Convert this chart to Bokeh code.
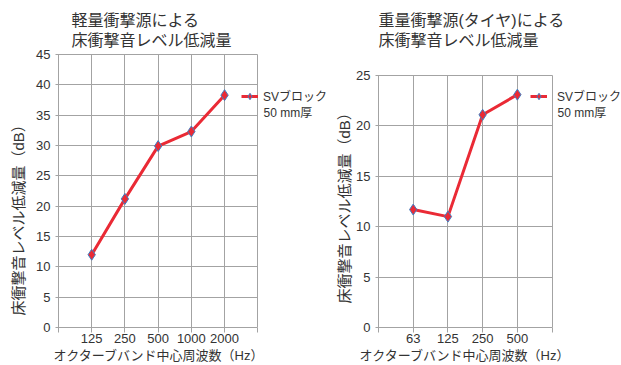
from bokeh.plotting import figure
from bokeh.layouts import row
from bokeh.models import Range1d, FixedTicker, Legend, LegendItem, Label, Title
from bokeh.embed import file_html
from bokeh.resources import INLINE

# ---- data ----
light_bands = ["125", "250", "500", "1000", "2000"]
light_values = [12.0, 21.2, 29.9, 32.3, 38.3]
heavy_bands = ["63", "125", "250", "500"]
heavy_values = [11.7, 11.0, 21.1, 23.1]
light_yticks = [0, 5, 10, 15, 20, 25, 30, 35, 40, 45]
heavy_yticks = [0, 5, 10, 15, 20, 25]
light_title = ["軽量衝撃源による", "床衝撃音レベル低減量"]
heavy_title = ["重量衝撃源(タイヤ)による", "床衝撃音レベル低減量"]
y_title = "床衝撃音レベル低減量（dB）"
x_title = "オクターブバンド中心周波数（Hz）"
series_name = ["SVブロック", "50 mm厚"]

FONT = "Liberation Sans, Noto Sans CJK JP"
TEXT = "#333333"
GRID = "#a3a3a3"
RED = "#ea2a35"
BLUE = "#3f7fc4"

H = 365
BOTTOM = 38


def make_chart(bands, values, yticks, title_lines, width, left_border,
               plot_w, plot_top, title_x, ytitle_offset, ytitle_standoff,
               xtitle_offset, legend_x, legend_standoff):
    n = len(bands)
    xs = list(range(1, n + 1))
    ymax = yticks[-1]
    frame_w = width - left_border
    frame_h = H - BOTTOM
    # frame extends to the right/top edge so the legend and titles are not clipped
    x_end = (n + 1) * frame_w / plot_w
    y_end = ymax * frame_h / (frame_h - plot_top)
    p = figure(width=width, height=H, output_backend="svg",
               toolbar_location=None,
               x_range=Range1d(0, x_end), y_range=Range1d(0, y_end),
               min_border_left=left_border, min_border_right=0,
               min_border_top=0, min_border_bottom=BOTTOM)
    p.background_fill_color = "white"
    p.border_fill_color = "white"
    p.outline_line_color = None

    # axes
    p.xaxis.ticker = FixedTicker(ticks=list(range(0, n + 2)))
    overrides = {0: "", n + 1: ""}
    for i, b in enumerate(bands):
        overrides[i + 1] = b
    p.xaxis.major_label_overrides = overrides
    p.yaxis.ticker = FixedTicker(ticks=yticks)
    p.xaxis.bounds = (0, n + 1)
    p.yaxis.bounds = (0, ymax)
    for ax in (p.xaxis[0], p.yaxis[0]):
        ax.axis_line_color = GRID
        ax.major_tick_line_color = GRID
        ax.minor_tick_line_color = None
        ax.major_label_text_font = FONT
        ax.major_label_text_font_size = "13px"
        ax.major_label_text_color = TEXT
    p.xaxis.major_tick_in = 0
    p.xaxis.major_tick_out = 5
    p.xaxis.major_label_standoff = 1
    p.yaxis.major_tick_in = 3
    p.yaxis.major_tick_out = 3
    p.yaxis.major_label_standoff = 5

    p.xgrid.grid_line_color = GRID
    p.ygrid.grid_line_color = GRID
    p.xgrid.cross_bounds = (0, ymax)
    p.ygrid.cross_bounds = (0, n + 1)

    # axis titles
    p.add_layout(Title(text=x_title, align="left", offset=xtitle_offset,
                       standoff=0, text_font=FONT, text_font_size="13px",
                       text_font_style="normal", text_color=TEXT), "below")
    p.add_layout(Title(text=y_title, align="left", offset=ytitle_offset,
                       standoff=ytitle_standoff, text_font=FONT,
                       text_font_size="15px", text_font_style="normal",
                       text_color=TEXT), "left")

    # series
    r_line = p.line(xs, values, line_color=RED, line_width=3)
    r_pts = p.scatter(xs, values, marker="diamond", size=11,
                      fill_color=RED, line_color=BLUE, line_width=1)

    legend_top = 88
    legend = Legend(items=[LegendItem(label=series_name[0], renderers=[r_line, r_pts])],
                    location=(legend_x, frame_h - legend_top - 16),
                    padding=0, margin=0, spacing=0,
                    glyph_width=17, glyph_height=16, label_height=16,
                    label_standoff=legend_standoff,
                    label_text_font=FONT, label_text_font_size="12px",
                    label_text_color=TEXT, label_text_baseline="middle",
                    background_fill_alpha=0, border_line_color=None)
    p.add_layout(legend, "center")
    p.add_layout(Label(x=legend_x + 17 + legend_standoff, y=frame_h - 112,
                       x_units="screen", y_units="screen", text=series_name[1],
                       text_font=FONT, text_font_size="12px", text_color=TEXT,
                       text_align="left", text_baseline="middle"))

    # chart title lines
    for line, cy in zip(title_lines, (19.5, 39.5)):
        p.add_layout(Label(x=title_x, y=frame_h - cy, x_units="screen",
                           y_units="screen", text=line, text_font=FONT,
                           text_font_size="16px", text_color=TEXT,
                           text_align="left", text_baseline="middle"))
    return p


p1 = make_chart(light_bands, light_values, light_yticks, light_title,
                width=332, left_border=57, plot_w=200, plot_top=54,
                title_x=13, ytitle_offset=12, ytitle_standoff=14,
                xtitle_offset=-5, legend_x=183, legend_standoff=5)
p2 = make_chart(heavy_bands, heavy_values, heavy_yticks, heavy_title,
                width=289, left_border=44, plot_w=175, plot_top=75,
                title_x=0, ytitle_offset=24, ytitle_standoff=2,
                xtitle_offset=-19, legend_x=152, legend_standoff=10)

layout = row(p1, p2)
open("out.html", "w").write(file_html(layout, INLINE))
